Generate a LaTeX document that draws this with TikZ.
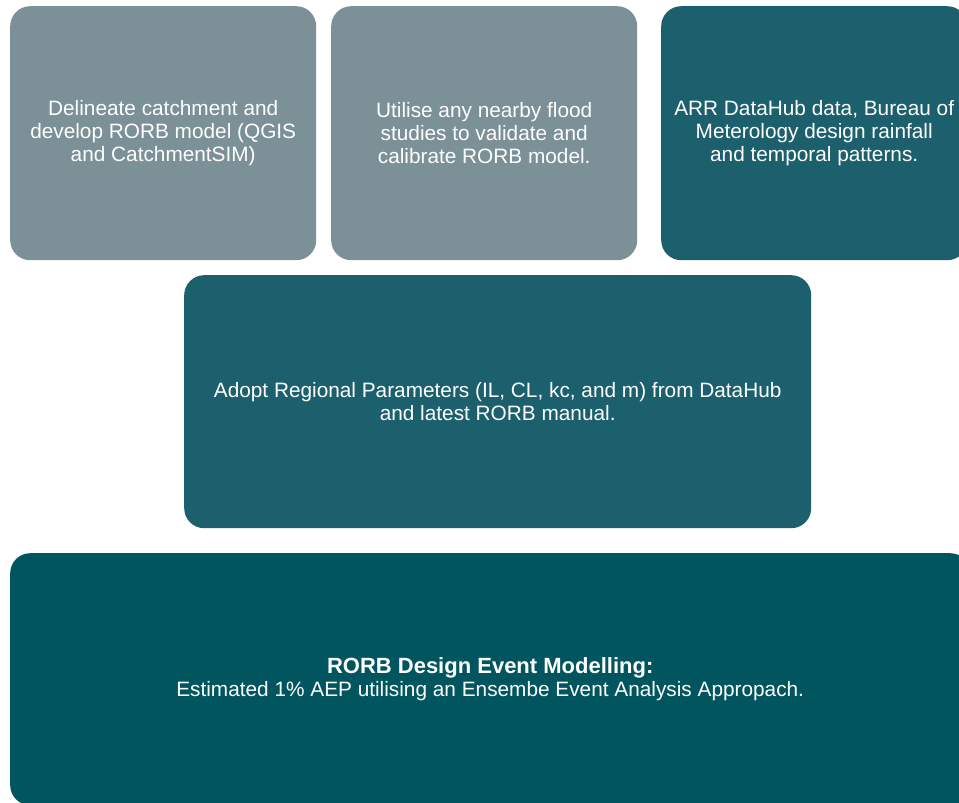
\documentclass[tikz,border=0pt]{standalone}
\usepackage{fontspec}
\setmainfont{Liberation Sans}
\definecolor{boxgray}{RGB}{123,145,151}
\definecolor{boxteal}{RGB}{27,96,108}
\definecolor{boxdark}{RGB}{1,85,94}
\tikzset{
  card/.style={rounded corners=20pt, inner sep=0pt, align=center, text=white,
    font=\fontsize{20.8}{23}\selectfont, anchor=north west},
}
\begin{document}
\begin{tikzpicture}[x=1pt,y=-1pt]
\clip (0,0) rectangle (959,803);
\fill[white] (0,0) rectangle (959,803);
\node[card, fill=boxgray, minimum width=306pt, minimum height=254pt] (b1) at (10,6)
  {Delineate catchment and\\develop RORB model (QGIS\\and CatchmentSIM)};
\node[card, fill=boxgray, minimum width=306pt, minimum height=254pt] (b2) at (331,6)
  {Utilise any nearby flood\\studies to validate and\\calibrate RORB model.};
\node[card, fill=boxteal, minimum width=306pt, minimum height=254pt] (b3) at (661,6)
  {ARR DataHub data, Bureau of\\Meterology design rainfall\\and temporal patterns.};
\node[card, fill=boxteal, minimum width=627pt, minimum height=253pt] (b4) at (184,275)
  {Adopt Regional Parameters (IL, CL, kc, and m) from DataHub\\and latest RORB manual.};
\node[card, fill=boxdark, minimum width=960pt, minimum height=252pt] (b5) at (10,553)
  {{\fontsize{22}{24}\selectfont\textbf{RORB Design Event Modelling:}}\\Estimated 1\% AEP utilising an Ensembe Event Analysis Appropach.};
\end{tikzpicture}
\end{document}
